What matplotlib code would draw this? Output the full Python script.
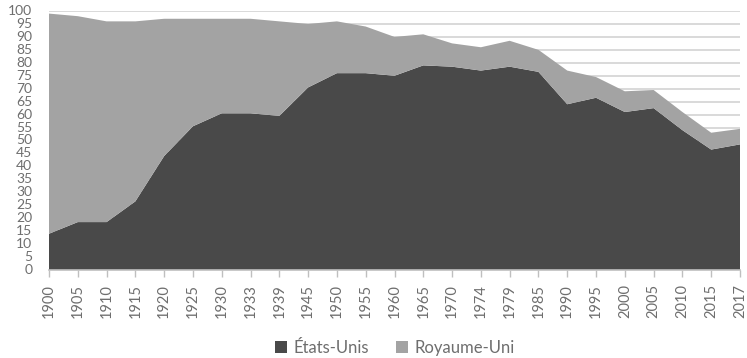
import matplotlib
matplotlib.use("Agg")
import matplotlib.pyplot as plt
from matplotlib.patches import Patch
import numpy as np

plt.rcParams['font.family'] = ['Lato', 'DejaVu Sans']

years = ["1900", "1905", "1910", "1915", "1920", "1925", "1930", "1933", "1939",
         "1945", "1950", "1955", "1960", "1965", "1970", "1974", "1979", "1985",
         "1990", "1995", "2000", "2005", "2010", "2015", "2017"]

etats_unis = [14, 18.5, 18.5, 26.5, 44, 55.5, 60.5, 60.5, 59.5, 70.5, 76, 76, 75,
              79, 78.5, 77, 78.5, 76.5, 64, 66.5, 61, 62.5, 54, 46.5, 48.5]
royaume_uni = [85, 79.5, 77.5, 69.5, 53, 41.5, 36.5, 36.5, 36.5, 24.5, 20, 18, 15,
               12, 9, 9, 10, 8.5, 13, 8, 8, 7, 7, 6.5, 6]

dark = "#494949"
light = "#a3a3a3"
text_gray = "#6e6e6e"

fig = plt.figure(figsize=(7.47, 3.58), dpi=100)
ax = fig.add_axes([49 / 747, 88 / 358, 691 / 747, 259 / 358])

x = np.arange(len(years))
ax.stackplot(x, etats_unis, royaume_uni, colors=[dark, light], linewidth=0, zorder=2)

ax.set_xlim(0, len(years) - 1)
ax.set_ylim(0, 100)
ax.set_yticks(np.arange(0, 101, 5))
ax.yaxis.grid(True, color="#d9d9d9", linewidth=1.4, zorder=0)
ax.set_axisbelow(True)

ax.set_xticks(x)
ax.set_xticklabels(years, rotation=90)

for side in ("top", "right", "left"):
    ax.spines[side].set_visible(False)
ax.spines["bottom"].set_color("#bfbfbf")
ax.spines["bottom"].set_linewidth(1.2)
ax.spines["bottom"].set_zorder(3)

ax.tick_params(axis="y", length=0, pad=12, labelsize=10, labelcolor=text_gray)
ax.tick_params(axis="x", length=5, width=1, color="#bfbfbf", pad=5,
               labelsize=10.5, labelcolor=text_gray)
for lbl in ax.get_yticklabels():
    lbl.set_verticalalignment("center")

handles = [Patch(facecolor=dark, label="États-Unis"),
           Patch(facecolor=light, label="Royaume-Uni")]
fig.legend(handles=handles, loc="center", bbox_to_anchor=(395 / 747, 1 - 348 / 358),
           ncol=2, frameon=False, fontsize=12, handlelength=0.7, handleheight=0.7,
           handletextpad=0.4, columnspacing=1.6, labelcolor=text_gray)

fig.savefig("out.png", dpi=100)
